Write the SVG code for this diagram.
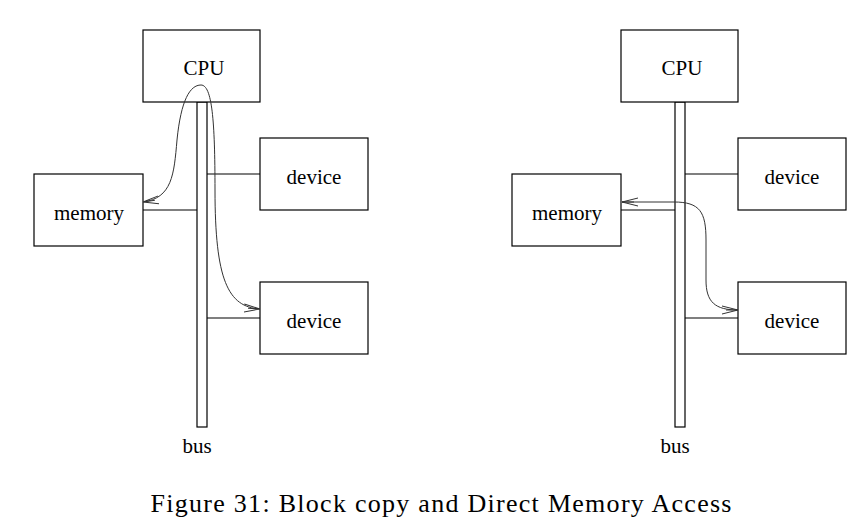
<svg xmlns="http://www.w3.org/2000/svg" width="868" height="531" viewBox="0 0 868 531">
<defs>
<style>
.box{fill:#fff;stroke:#000;stroke-width:1.2}
.ln{fill:none;stroke:#000;stroke-width:1.2}
.cv{fill:none;stroke:#333;stroke-width:1}
.t{font-family:"Liberation Serif",serif;font-size:21px;fill:#000;text-anchor:middle}
.cap{font-family:"Liberation Serif",serif;font-size:26px;fill:#000;text-anchor:middle}
</style>
<marker id="ah" viewBox="0 0 16 10" refX="16" refY="5" markerWidth="16" markerHeight="10" markerUnits="userSpaceOnUse" orient="auto-start-reverse">
<path d="M0,1 L16,5 L0,9 M4,5 L16,5" fill="none" stroke="#333" stroke-width="1"/>
</marker>
</defs>
<rect width="868" height="531" fill="#fff"/>
<g id="bus-left"><rect class="box" x="197" y="102" width="10" height="325"/><text class="t" x="197" y="453">bus</text></g>
<g id="cpu-left"><rect class="box" x="143" y="30" width="117" height="72"/><text class="t" x="204" y="75">CPU</text></g>
<g id="memory-left"><rect class="box" x="34" y="174" width="109" height="72"/><text class="t" x="89" y="220">memory</text></g>
<g id="device1-left"><rect class="box" x="260" y="138" width="108" height="72"/><text class="t" x="314" y="184">device</text></g>
<g id="device2-left"><rect class="box" x="260" y="282" width="108" height="72"/><text class="t" x="314" y="328">device</text></g>
<g id="bus-right"><rect class="box" x="675" y="102" width="10" height="325"/><text class="t" x="675" y="453">bus</text></g>
<g id="cpu-right"><rect class="box" x="621" y="30" width="117" height="72"/><text class="t" x="682" y="75">CPU</text></g>
<g id="memory-right"><rect class="box" x="512" y="174" width="109" height="72"/><text class="t" x="567" y="220">memory</text></g>
<g id="device1-right"><rect class="box" x="738" y="138" width="108" height="72"/><text class="t" x="792" y="184">device</text></g>
<g id="device2-right"><rect class="box" x="738" y="282" width="108" height="72"/><text class="t" x="792" y="328">device</text></g>
<g id="connectors">
<line class="ln" x1="143" y1="210" x2="197" y2="210"/>
<line class="ln" x1="207" y1="174" x2="260" y2="174"/>
<line class="ln" x1="207" y1="318" x2="260" y2="318"/>
<line class="ln" x1="621" y1="210" x2="675" y2="210"/>
<line class="ln" x1="685" y1="174" x2="738" y2="174"/>
<line class="ln" x1="685" y1="318" x2="738" y2="318"/>
<path class="cv" marker-start="url(#ah)" marker-end="url(#ah)" d="M143,202 C172,198 174,175 177,140 C181,100 190,85 201,85 C212,85 215,120 215,190 C215,280 228,307 260,309"/>
<path class="cv" marker-start="url(#ah)" marker-end="url(#ah)" d="M622,202 L674,202 C700,202 706,212 706,240 L706,280 C706,302 715,310 738,310"/>
</g>
<text class="cap" x="441" y="512" textLength="581" lengthAdjust="spacing">Figure 31: Block copy and Direct Memory Access</text>
</svg>
